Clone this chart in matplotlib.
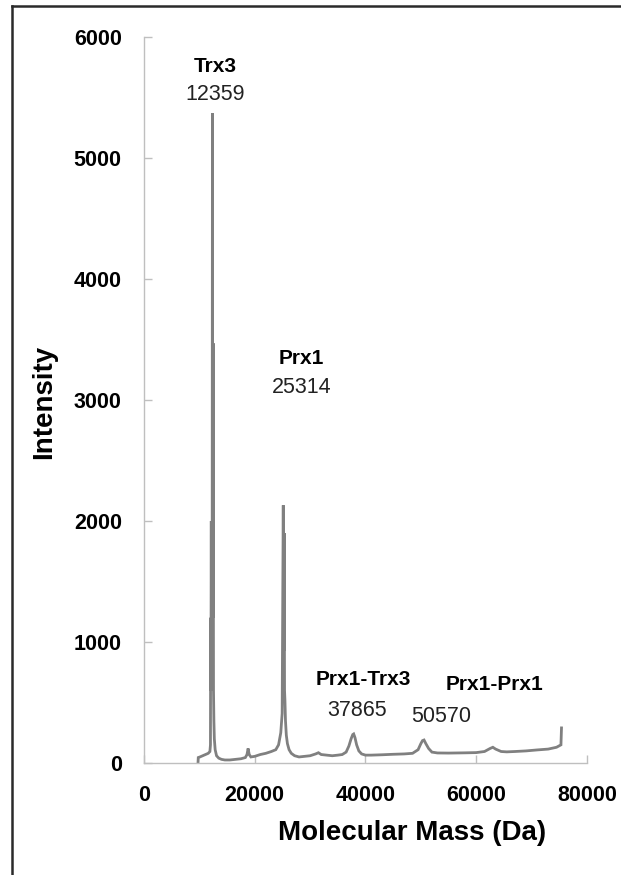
import numpy as np
import matplotlib.pyplot as plt
from matplotlib.lines import Line2D

# spectrum (mass in Da, intensity)
mass = [9750, 9800, 10100, 10600, 11100, 11600, 11900, 12000, 12040, 12060, 12100,
        12150, 12200, 12260, 12300, 12359, 12420, 12480, 12550, 12620, 12700, 12850,
        13100, 13500, 14000, 14600, 15500, 16500, 17500, 18300, 18600, 18800, 19000,
        19300, 20000, 21000, 22000, 23000, 23800, 24300, 24700, 24950, 25050, 25150,
        25250, 25314, 25380, 25450, 25550, 25700, 25900, 26200, 26600, 27200, 28000,
        29000, 30000, 31000, 31500, 32000, 33000, 34000, 35000, 35800, 36500, 37000,
        37400, 37700, 37865, 38100, 38400, 38800, 39300, 40000, 41000, 43000, 45000,
        47000, 48500, 49500, 50000, 50300, 50570, 50900, 51400, 52000, 53000, 55000,
        58000, 60000, 61500, 62500, 63000, 63500, 64500, 65500, 67000, 69000, 71000,
        73000, 74500, 75300, 75400]
intensity = [0, 45, 50, 60, 70, 80, 95, 150, 1200, 600, 900,
             2000, 700, 1870, 900, 5370, 1200, 3470, 600, 350, 200, 110,
             60, 40, 30, 25, 25, 30, 35, 45, 70, 120, 70,
             50, 55, 70, 80, 95, 110, 150, 250, 410, 1300, 2130,
             930, 1900, 600, 520, 350, 230, 160, 110, 80, 60, 50,
             55, 60, 75, 85, 70, 65, 60, 65, 70, 90, 140,
             200, 235, 240, 210, 150, 100, 75, 65, 65, 68, 72,
             75, 80, 110, 160, 185, 190, 160, 120, 90, 83, 82,
             84, 86, 95, 120, 130, 115, 95, 92, 95, 100, 108,
             115, 130, 150, 290]

x_ticks = [0, 20000, 40000, 60000, 80000]
y_ticks = [0, 1000, 2000, 3000, 4000, 5000, 6000]

# peak labels: (name, position of name, mass text, position of mass text)
peak_names = ["Trx3", "Prx1", "Prx1-Trx3", "Prx1-Prx1"]
name_pos = [(12822, 5760), (28352, 3347), (39639, 686), (63386, 645)]
peak_masses = ["12359", "25314", "37865", "50570"]
mass_pos = [(12912, 5529), (28533, 3107), (38465, 430), (53634, 388)]

plt.rcParams['font.family'] = ['Liberation Sans', 'DejaVu Sans']

fig = plt.figure(figsize=(6.21, 8.75), dpi=100)
ax = fig.add_axes([0.2319, 0.128, 0.7133, 0.8297])

ax.plot(mass, intensity, color='#808080', lw=2.0, solid_joinstyle='miter')

ax.set_xlim(0, 80000)
ax.set_ylim(0, 6000)
ax.set_xticks(x_ticks)
ax.set_yticks(y_ticks)
ax.set_xticklabels([str(v) for v in x_ticks], fontsize=15.5, fontweight='bold')
ax.set_yticklabels([str(v) for v in y_ticks], fontsize=15.5, fontweight='bold')
ax.tick_params(direction='in', length=5.5, width=1, color='#bfbfbf', pad=16)

for side in ['top', 'right']:
    ax.spines[side].set_visible(False)
for side in ['left', 'bottom']:
    ax.spines[side].set_color('#bfbfbf')
    ax.spines[side].set_linewidth(1)

for name, pos in zip(peak_names, name_pos):
    ax.text(pos[0], pos[1], name, ha='center', va='center', fontsize=15, fontweight='bold')
for m, pos in zip(peak_masses, mass_pos):
    ax.text(pos[0], pos[1], m, ha='center', va='center', fontsize=15.5, color='#222222')

fig.text(0.663, 0.048, "Molecular Mass (Da)", ha='center', va='center', fontsize=20, fontweight='bold')
fig.text(0.0709, 0.5406, "Intensity", ha='center', va='center', rotation=90, fontsize=20, fontweight='bold')

# frame lines at top and left of the image
fig.add_artist(Line2D([12 / 621, 1], [1 - 6 / 875, 1 - 6 / 875], transform=fig.transFigure, color='#2a2a2a', lw=1.8))
fig.add_artist(Line2D([12 / 621, 12 / 621], [0, 1 - 6 / 875], transform=fig.transFigure, color='#2a2a2a', lw=1.8))

fig.savefig("out.png", dpi=100)
